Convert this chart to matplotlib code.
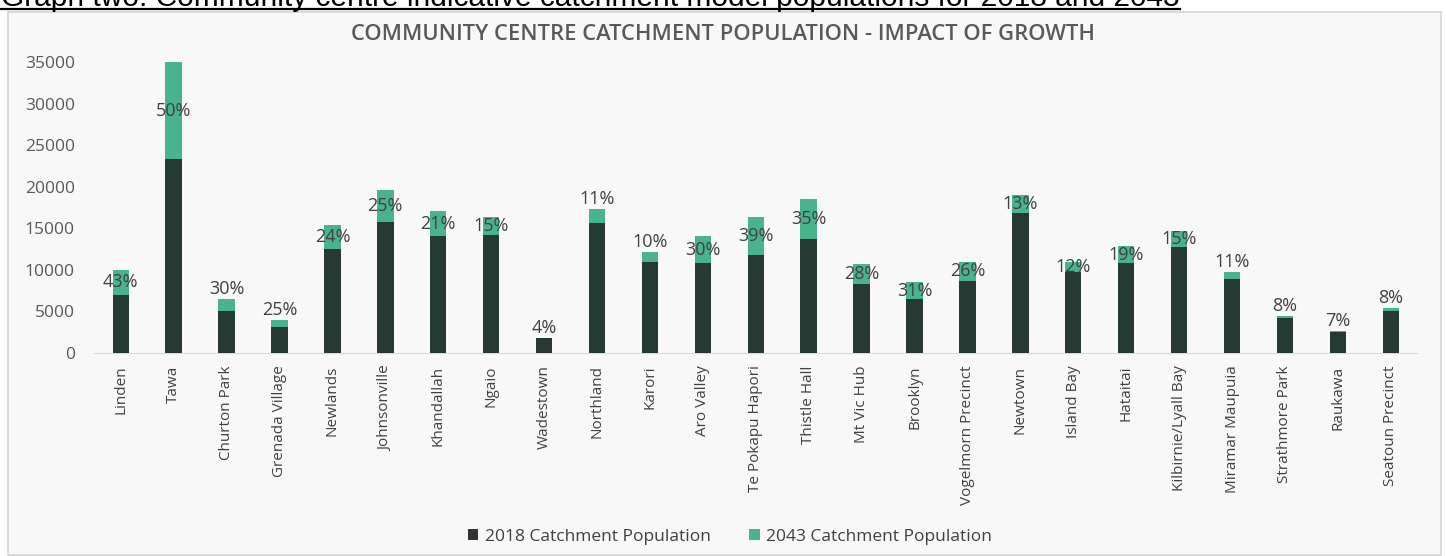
import matplotlib
matplotlib.use("Agg")
from matplotlib import pyplot as plt
from matplotlib.patches import Rectangle, Patch
from matplotlib.lines import Line2D

# Community centres and their catchment populations
centres = ["Linden", "Tawa", "Churton Park", "Grenada Village", "Newlands",
           "Johnsonville", "Khandallah", "Ngaio", "Wadestown", "Northland",
           "Karori", "Aro Valley", "Te Pokapu Hapori", "Thistle Hall",
           "Mt Vic Hub", "Brooklyn", "Vogelmorn Precinct", "Newtown",
           "Island Bay", "Hataitai", "Kilbirnie/Lyall Bay", "Miramar Maupuia",
           "Strathmore Park", "Raukawa", "Seatoun Precinct"]
pop_2018 = [7000, 23300, 5000, 3150, 12450, 15700, 14100, 14200, 1750, 15600,
            11000, 10800, 11800, 13700, 8350, 6500, 8700, 16800, 9750, 10800,
            12800, 8850, 4150, 2500, 5000]
pop_2043 = [10000, 34950, 6500, 3950, 15450, 19650, 17050, 16350, 1820, 17350,
            12100, 14050, 16400, 18500, 10700, 8500, 10950, 18950, 10900, 12850,
            14700, 9800, 4480, 2680, 5400]
y_ticks = [0, 5000, 10000, 15000, 20000, 25000, 30000, 35000]

# growth labels that sit above the bar instead of inside the green part
label_above = {"Churton Park", "Grenada Village", "Wadestown", "Northland",
               "Karori", "Miramar Maupuia", "Strathmore Park", "Raukawa",
               "Seatoun Precinct"}

DARK = '#263a33'
GREEN = '#49b38d'
TEXT = '#404040'
W, H = 1446, 556

plt.rcParams['font.family'] = ['Open Sans', 'DejaVu Sans']

fig = plt.figure(figsize=(W/100, H/100), dpi=100)

# chart frame
fig.patches.append(Rectangle((8/W, 1/H), 1433/W, 543/H, transform=fig.transFigure,
                             facecolor='#f8f8f8', edgecolor='#d4d4d4', lw=1.2,
                             zorder=-1))

# page heading, partly cut off by the top edge
head = fig.text(1/W, 1 - 5.5/H,
                "Graph two: Community centre indicative catchment model "
                "populations for 2018 and 2043",
                fontsize=21.5, family='Liberation Sans', color='black',
                va='baseline', ha='left')
fig.canvas.draw()
bb = head.get_window_extent()
fig.lines.append(Line2D([bb.x0/W, bb.x1/W], [1 - 8.5/H, 1 - 8.5/H],
                        transform=fig.transFigure, color='black', lw=1.6))

ax = fig.add_axes([94.25/W, 203/H, 1323/W, 291/H])
ax.set_facecolor('none')

x = list(range(len(centres)))
ax.bar(x, pop_2043, width=0.31, color=GREEN, zorder=2)
ax.bar(x, pop_2018, width=0.31, color=DARK, zorder=3)

for i, name in enumerate(centres):
    growth = round((pop_2043[i] / pop_2018[i] - 1) * 100)
    if name in label_above:
        ax.annotate(f"{growth}%", (i, pop_2043[i]), xytext=(0, 10),
                    textcoords='offset pixels', ha='center', va='center',
                    fontsize=13, color=TEXT, zorder=4)
    else:
        ax.text(i, (pop_2018[i] + pop_2043[i]) / 2, f"{growth}%",
                ha='center', va='center', fontsize=13, color=TEXT, zorder=4)

ax.set_xlim(-0.5, len(centres) - 0.5)
ax.set_ylim(0, 35000)
ax.set_yticks(y_ticks)
ax.set_yticklabels([str(v) for v in y_ticks])
ax.set_xticks(x)
ax.set_xticklabels(centres, rotation=90)
ax.tick_params(axis='y', length=0, pad=14, labelsize=12.5, labelcolor='#595959')
ax.tick_params(axis='x', length=0, pad=9, labelsize=11, labelcolor=TEXT)
for side in ['top', 'right', 'left']:
    ax.spines[side].set_visible(False)
ax.spines['bottom'].set_color('#d9d9d9')

fig.text(723/W, 1 - 35/H,
         "COMMUNITY CENTRE CATCHMENT POPULATION - IMPACT OF GROWTH",
         ha='center', va='center', fontsize=15.8, fontweight='semibold',
         color='#595959')

handles = [Patch(facecolor='#333333', label='2018 Catchment Population'),
           Patch(facecolor=GREEN, label='2043 Catchment Population')]
fig.legend(handles=handles, loc='center', bbox_to_anchor=(730/W, 1 - 537/H),
           ncol=2, frameon=False, fontsize=12.5, handlelength=0.6,
           handleheight=0.6, handletextpad=0.4, columnspacing=2.2,
           labelcolor=TEXT)

fig.savefig('out.png', dpi=100)
